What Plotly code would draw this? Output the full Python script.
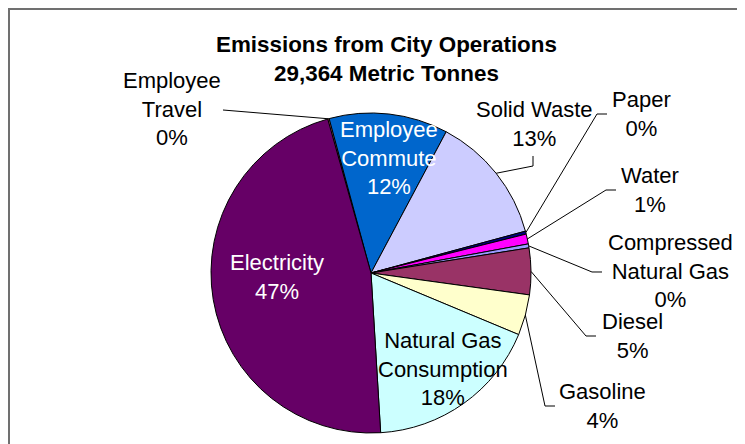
import math
import plotly.graph_objects as go

# ---------------- data ----------------
categories = ["Employee Travel", "Employee Commute", "Solid Waste", "Paper", "Water",
              "Compressed Natural Gas", "Diesel", "Gasoline",
              "Natural Gas Consumption", "Electricity"]
display_names = ["Employee<br>Travel", "Employee<br>Commute", "Solid Waste", "Paper", "Water",
                 "Compressed<br>Natural Gas", "Diesel", "Gasoline",
                 "Natural Gas<br>Consumption", "Electricity"]
values = [0.15, 12.0, 13.0, 0.3, 1.0, 0.4, 4.7, 4.1, 17.75, 46.6]
title_lines = ["Emissions from City Operations", "29,364 Metric Tonnes"]

# ---------------- styles / layout ----------------
colors = ["#FF8080", "#0066CC", "#CCCCFF", "#000080", "#FF00FF",
          "#9999FF", "#993366", "#FFFFCC", "#CCFFFF", "#660066"]
W, H = 745, 444
OFF = 8  # page body margin
CX, CY, R = 371, 273, 160
ROT = -15.7
FONT = "Liberation Sans, Arial, sans-serif"

# label centre (screen px), text colour, leader points after the slice edge (screen px)
label_layout = {
    "Employee Travel": ((172, 109), "black", [(223, 110)]),
    "Employee Commute": ((389, 158), "white", None),
    "Solid Waste": ((534, 124), "black", [(533, 166), (533, 156)]),
    "Paper": ((641, 114), "black", [(597, 114), (607, 114)]),
    "Water": ((650, 190), "black", [(606, 190), (616, 190)]),
    "Compressed Natural Gas": ((670, 271), "black", [(592, 272), (602, 272)]),
    "Diesel": ((632, 336), "black", [(586, 336), (596, 336)]),
    "Gasoline": ((602, 406), "black", [(545, 406), (555, 406)]),
    "Natural Gas Consumption": ((443, 369), "black", None),
    "Electricity": ((277, 277), "white", None),
}


def px2paper(x, y):
    return (x - OFF) / W, 1 - (y - OFF) / H


fig = go.Figure()
fig.add_trace(go.Pie(
    labels=categories, values=values, sort=False, direction="clockwise",
    rotation=ROT, marker=dict(colors=colors, line=dict(color="black", width=1)),
    textinfo="none", hoverinfo="label+percent", showlegend=False,
    domain=dict(x=[(CX - OFF - R) / W, (CX - OFF + R) / W],
                y=[(H - (CY - OFF) - R) / H, (H - (CY - OFF) + R) / H]),
))

total = sum(values)
annotations = []
shapes = []
cum = 0.0
for name, disp, v in zip(categories, display_names, values):
    start = ROT + 360 * cum / total
    cum += v
    end = ROT + 360 * cum / total
    mid = math.radians((start + end) / 2)
    pct = round(100 * v / total)
    (tx, ty), tcol, leader = label_layout[name]
    px_, py_ = px2paper(tx, ty)
    annotations.append(dict(
        x=px_, y=py_, xref="paper", yref="paper", showarrow=False,
        text=f"{disp}<br>{pct}%", align="center",
        font=dict(family=FONT, size=22, color=tcol),
        xanchor="center", yanchor="middle"))
    if leader:
        ex = CX + R * math.sin(mid)
        ey = CY - R * math.cos(mid)
        pts = [(ex, ey)] + leader
        path = ""
        for i, (x, y) in enumerate(pts):
            a, b = px2paper(x, y)
            path += ("M" if i == 0 else " L") + f" {a:.5f},{b:.5f}"
        shapes.append(dict(type="path", path=path, xref="paper", yref="paper",
                           line=dict(color="black", width=1)))

# title
tx, ty = px2paper(386, 59)
annotations.append(dict(
    x=tx, y=ty, xref="paper", yref="paper", showarrow=False,
    text="<b>" + "<br>".join(title_lines) + "</b>",
    font=dict(family=FONT, size=22.4, color="black"),
    xanchor="center", yanchor="middle", align="center"))

# chart frame
fx, fy = px2paper(9, 9)
shapes.append(dict(type="path", xref="paper", yref="paper",
                   path=f"M {fx:.5f},-0.1 L {fx:.5f},{fy:.5f} L 1.1,{fy:.5f}",
                   line=dict(color="#707070", width=2)))

fig.update_layout(
    width=W, height=H, margin=dict(l=0, r=0, t=0, b=0),
    paper_bgcolor="white", plot_bgcolor="white",
    annotations=annotations, shapes=shapes,
)
fig.write_html("out.html")
